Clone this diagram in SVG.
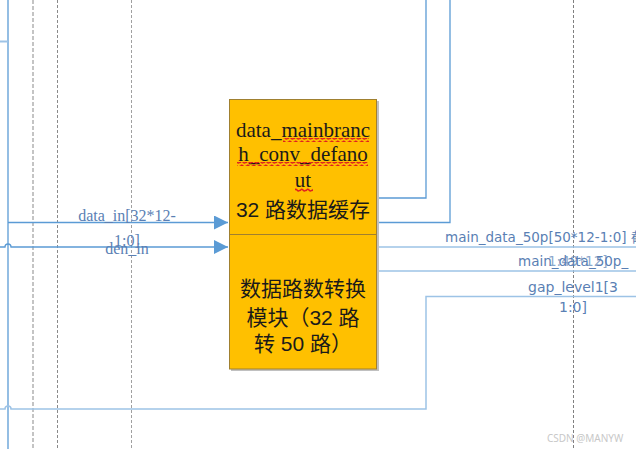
<svg xmlns="http://www.w3.org/2000/svg" width="636" height="449" viewBox="0 0 636 449">
<defs>
<style>
.w{stroke:#5b9bd5;stroke-width:1.3;fill:none}
.lt{stroke:#9dc3e6;stroke-width:1.5;fill:none}
.lbl{font-family:"Liberation Serif",serif;font-size:16px;fill:#5a7fb4}
.lbs{font-family:"DejaVu Sans",sans-serif;fill:#5a7fb4}
.bt{font-family:"Liberation Serif","Noto Sans CJK SC",serif;font-size:21px;fill:#1a1a1a;text-anchor:middle}
.ct{font-family:"Liberation Sans","Noto Sans CJK SC",sans-serif;font-size:21px;fill:#1a1a1a;text-anchor:middle}
</style>
<marker id="ah" viewBox="0 0 10 10" refX="10" refY="5" markerWidth="14" markerHeight="14" markerUnits="userSpaceOnUse" orient="auto">
<path d="M0,0 L10,5 L0,10 Z" fill="#5b9bd5"/>
</marker>
<pattern id="wv" width="6" height="4" patternUnits="userSpaceOnUse">
<path d="M0,3 Q1.5,0 3,2 T6,2" stroke="#e02020" stroke-width="1.4" fill="none"/>
</pattern>
</defs>
<rect width="636" height="449" fill="#ffffff"/>
<g id="guides">
<line x1="33" y1="0" x2="33" y2="449" stroke="#c4c4c4" stroke-width="2" stroke-dasharray="4,2"/>
<line x1="57.5" y1="0" x2="57.5" y2="449" stroke="#8a8a8a" stroke-width="1" stroke-dasharray="3,2"/>
<line x1="131.5" y1="0" x2="131.5" y2="449" stroke="#a0a0a0" stroke-width="1" stroke-dasharray="3,2"/>
<line x1="573.5" y1="0" x2="573.5" y2="449" stroke="#808080" stroke-width="1" stroke-dasharray="3,2"/>
</g>
<g id="connectors">
<line class="w" x1="8" y1="0" x2="8" y2="449"/>
<line x1="0" y1="41.5" x2="8" y2="41.5" stroke="#9dc3e6" stroke-width="2"/>
<path class="w" d="M8,222.5 H228" marker-end="url(#ah)"/>
<path class="w" d="M0,247 H5 A3,3 0 0 1 11,247 H228" marker-end="url(#ah)"/>
<path class="w" d="M377,198 H426 V0" stroke-width="2"/>
<path class="w" d="M377,222.5 H450 V0"/>
<path class="lt" d="M377,247 H636"/>
<path class="lt" d="M377,271 H636"/>
<path class="lt" d="M0,409 H5 A3,3 0 0 1 11,409 H426 V296.5 H636"/>
</g>
<g id="node-buffer">
<rect x="231" y="101" width="148" height="270" fill="#c0c0c0"/>
<rect x="229.5" y="99.5" width="147" height="135" fill="#ffc000" stroke="#a08030" stroke-width="1"/>
<text class="bt" x="303" y="137">data_mainbranc</text>
<text class="bt" x="303" y="161">h_conv_defano</text>
<text class="bt" x="303" y="187">ut</text>
<text class="ct" x="303" y="217">32 路数据缓存</text>
<rect x="283" y="138" width="86" height="4" fill="url(#wv)"/>
<rect x="237" y="162" width="131" height="4" fill="url(#wv)"/>
<rect x="295" y="188" width="18" height="4" fill="url(#wv)"/>
</g>
<g id="node-convert">
<rect x="229.5" y="234.5" width="147" height="134.5" fill="#ffc000" stroke="#a08030" stroke-width="1"/>
<text class="ct" x="303" y="296">数据路数转换</text>
<text class="ct" x="303" y="325">模块（32 路</text>
<text class="ct" x="303" y="351">转 50 路）</text>
</g>
<g id="labels">
<text class="lbl" x="127" y="221" text-anchor="middle">data_in[32*12-</text>
<text class="lbl" x="127" y="246" text-anchor="middle">1:0]</text>
<text class="lbl" x="127" y="254" text-anchor="middle">den_in</text>
<text class="lbs" x="445" y="242" font-size="13.5">main_data_50p[50*12-1:0] 截</text>
<text class="lbs" x="518" y="266" font-size="13.5">main_data_50p_</text>
<text class="lbs" x="548" y="266" font-size="13.5" fill-opacity="0.7">1:49*12]</text>
<text class="lbs" x="573" y="292" font-size="14" text-anchor="middle">gap_level1[3</text>
<text class="lbs" x="573" y="312" font-size="14" text-anchor="middle">1:0]</text>
</g>
<text x="547" y="442" font-family="'Noto Sans',sans-serif" font-size="10" fill="#c8c8c8">CSDN @MANYW</text>
</svg>
